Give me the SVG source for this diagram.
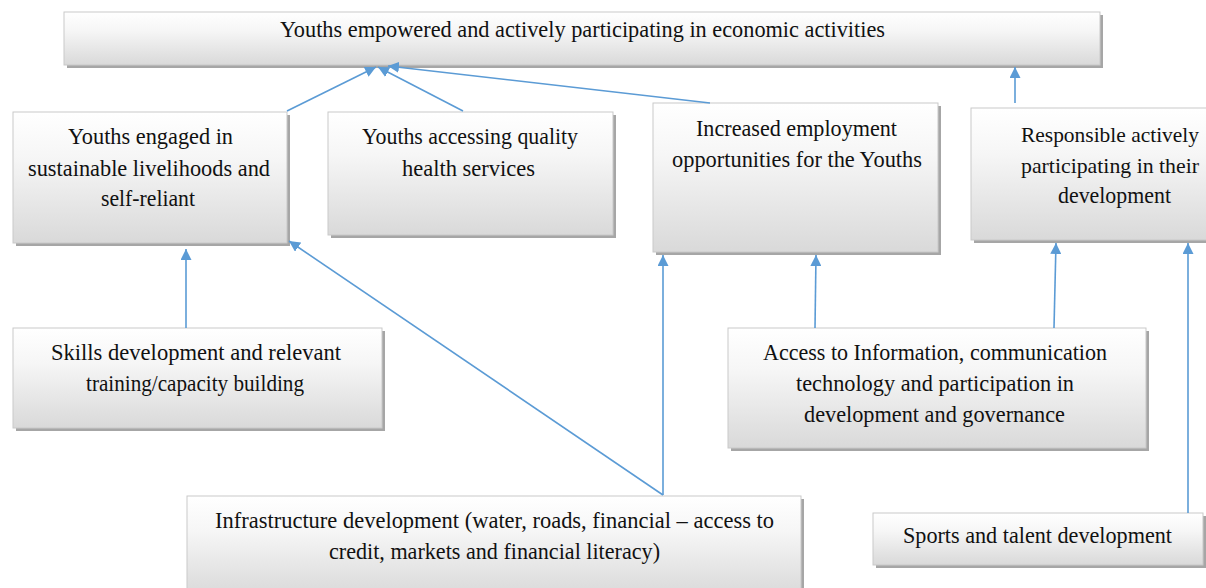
<svg xmlns="http://www.w3.org/2000/svg" width="1206" height="588" viewBox="0 0 1206 588">
<defs>
<linearGradient id="g" x1="0" y1="0" x2="0" y2="1">
<stop offset="0" stop-color="#ffffff"/>
<stop offset="0.35" stop-color="#f6f6f6"/>
<stop offset="1" stop-color="#d9d9d9"/>
</linearGradient>
<marker id="ah" viewBox="0 0 10 10" refX="10" refY="5" markerWidth="11" markerHeight="11" markerUnits="userSpaceOnUse" orient="auto">
<path d="M0,0 L10,5 L0,10 z" fill="#5b9bd5"/>
</marker>
</defs>
<style>
.sh{fill:#a6a6a6}
.bx{fill:url(#g);stroke:#c9c9c9;stroke-width:1}
text{font-family:"Liberation Serif","Times New Roman",serif;font-size:24px;fill:#111}
text.s{font-size:22px}
.c{stroke:#5b9bd5;stroke-width:1.6;fill:none;marker-end:url(#ah)}
</style>
<rect width="1206" height="588" fill="#ffffff"/>

<g id="n-top">
<rect class="sh" x="67" y="15" width="1036" height="53"/>
<rect class="bx" x="64" y="12" width="1036" height="53"/>
<text x="280" y="37" textLength="605" lengthAdjust="spacingAndGlyphs">Youths empowered and actively participating in economic activities</text>
</g>

<g id="n-livelihoods">
<rect class="sh" x="16" y="115" width="274" height="131"/>
<rect class="bx" x="13" y="112" width="274" height="131"/>
<text x="68" y="144" textLength="165" lengthAdjust="spacingAndGlyphs">Youths engaged in</text>
<text x="28" y="176" textLength="242" lengthAdjust="spacingAndGlyphs">sustainable livelihoods  and</text>
<text x="101" y="206" textLength="94" lengthAdjust="spacingAndGlyphs">self-reliant</text>
</g>

<g id="n-health">
<rect class="sh" x="331" y="115" width="285" height="123"/>
<rect class="bx" x="328" y="112" width="285" height="123"/>
<text x="362" y="144" textLength="216" lengthAdjust="spacingAndGlyphs">Youths accessing quality</text>
<text x="402" y="176" textLength="133" lengthAdjust="spacingAndGlyphs">health services</text>
</g>

<g id="n-employment">
<rect class="sh" x="656" y="106" width="285" height="149"/>
<rect class="bx" x="653" y="103" width="285" height="149"/>
<text x="696" y="136" textLength="201" lengthAdjust="spacingAndGlyphs">Increased employment</text>
<text x="672" y="167" textLength="250" lengthAdjust="spacingAndGlyphs">opportunities  for the Youths</text>
</g>

<g id="n-responsible">
<rect class="sh" x="974" y="111" width="290" height="132"/>
<rect class="bx" x="971" y="108" width="290" height="132"/>
<text class="s" x="1021" y="142" textLength="178" lengthAdjust="spacingAndGlyphs">Responsible actively</text>
<text class="s" x="1021" y="173" textLength="178" lengthAdjust="spacingAndGlyphs">participating in their</text>
<text x="1058" y="203" textLength="113" lengthAdjust="spacingAndGlyphs">development</text>
</g>

<g id="n-skills">
<rect class="sh" x="16" y="331" width="369" height="100"/>
<rect class="bx" x="13" y="328" width="369" height="100"/>
<text x="51" y="360" textLength="290" lengthAdjust="spacingAndGlyphs">Skills  development  and relevant</text>
<text x="86" y="391" textLength="218" lengthAdjust="spacingAndGlyphs">training/capacity  building</text>
</g>

<g id="n-access">
<rect class="sh" x="731" y="331" width="418" height="120"/>
<rect class="bx" x="728" y="328" width="418" height="120"/>
<text x="763" y="360" textLength="344" lengthAdjust="spacingAndGlyphs">Access to Information,  communication</text>
<text x="796" y="391" textLength="278" lengthAdjust="spacingAndGlyphs">technology  and participation  in</text>
<text x="804" y="422" textLength="261" lengthAdjust="spacingAndGlyphs">development  and governance</text>
</g>

<g id="n-infrastructure">
<rect class="sh" x="190" y="499" width="614" height="100"/>
<rect class="bx" x="187" y="496" width="614" height="100"/>
<text x="215" y="528" textLength="559" lengthAdjust="spacingAndGlyphs">Infrastructure development (water, roads, financial – access to</text>
<text x="329" y="559" textLength="331" lengthAdjust="spacingAndGlyphs">credit, markets and financial literacy)</text>
</g>

<g id="n-sports">
<rect class="sh" x="876" y="516" width="330" height="52"/>
<rect class="bx" x="873" y="513" width="330" height="52"/>
<text x="903" y="543" textLength="269" lengthAdjust="spacingAndGlyphs">Sports and talent development</text>
</g>

<g id="connectors">
<line class="c" x1="287" y1="111" x2="376" y2="67"/>
<line class="c" x1="463" y1="111" x2="378" y2="67"/>
<line class="c" x1="710" y1="103" x2="388" y2="66"/>
<line class="c" x1="1015" y1="103" x2="1015" y2="67"/>
<line class="c" x1="186" y1="328" x2="186" y2="249"/>
<line class="c" x1="663" y1="495" x2="289" y2="241"/>
<line class="c" x1="663" y1="495" x2="663" y2="255"/>
<line class="c" x1="815" y1="328" x2="816" y2="255"/>
<line class="c" x1="1054" y1="328" x2="1056" y2="243"/>
<line class="c" x1="1188" y1="513" x2="1188" y2="243"/>
</g>
</svg>
